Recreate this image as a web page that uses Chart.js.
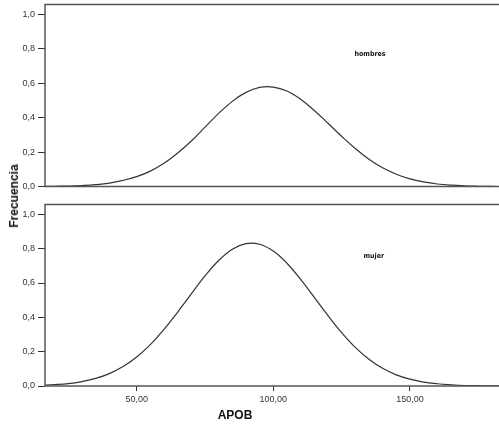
<!DOCTYPE html>
<html>
<head>
<meta charset="utf-8">
<title>APOB</title>
<script src="https://cdn.jsdelivr.net/npm/chart.js@4.4.1/dist/chart.umd.min.js"></script>
<style>
  html, body { margin: 0; padding: 0; background: #fff; }
  #wrap { position: relative; width: 499px; height: 427px; overflow: hidden; }
  #chart-top { position: absolute; left: 0; top: -4px; }
  #chart-bottom { position: absolute; left: 0; top: 196px; }
  .axis-title { position: absolute; font: bold 12px "Liberation Sans", Arial, sans-serif; color: #111; white-space: nowrap; }
  #y-title { left: 14px; top: 196px; transform: translate(-50%, -50%) rotate(-90deg); }
  #x-title { left: 235px; top: 415px; transform: translate(-50%, -50%); }
</style>
</head>
<body>
<div id="wrap">
  <canvas id="chart-top" width="499" height="199"></canvas>
  <canvas id="chart-bottom" width="499" height="231"></canvas>
  <div class="axis-title" id="y-title">Frecuencia</div>
  <div class="axis-title" id="x-title">APOB</div>
</div>
<script>
// Curvas normales de APOB por sexo
const apobX = [15, 20, 25, 30, 35, 40, 45, 50, 55, 60, 65, 70, 75, 80, 85, 90, 95, 100,
  105, 110, 115, 120, 125, 130, 135, 140, 145, 150, 155, 160, 165, 170, 175, 180, 185];

const hombres = [0.001, 0.002, 0.003, 0.006, 0.011, 0.020, 0.036, 0.058, 0.090, 0.135,
  0.195, 0.265, 0.345, 0.425, 0.495, 0.547, 0.576, 0.578, 0.555, 0.507, 0.442, 0.368,
  0.292, 0.221, 0.159, 0.109, 0.072, 0.045, 0.027, 0.015, 0.008, 0.004, 0.002, 0.001, 0.0005];

const mujer = [0.004, 0.008, 0.014, 0.026, 0.044, 0.072, 0.113, 0.169, 0.241, 0.330,
  0.431, 0.537, 0.641, 0.731, 0.797, 0.830, 0.826, 0.786, 0.715, 0.621, 0.516, 0.410,
  0.311, 0.225, 0.156, 0.103, 0.065, 0.040, 0.023, 0.013, 0.007, 0.003, 0.002, 0.001, 0.0004];

const xTicks = [50, 100, 150];
const xTickLabels = ['50,00', '100,00', '150,00'];
const yTicks = [0, 0.2, 0.4, 0.6, 0.8, 1.0];
const yTickLabels = ['0,0', '0,2', '0,4', '0,6', '0,8', '1,0'];

const X_MIN = 16.45, X_MAX = 182.6, Y_MAX = 1.058;
const tickFont = { family: "'Liberation Sans', Arial, sans-serif", size: 9 };
const inkColor = '#333333';

// marco del panel y etiqueta del grupo
const panelPlugin = {
  id: 'panel',
  afterDraw(chart, args, opts) {
    const { ctx, chartArea: a, scales } = chart;
    ctx.save();
    ctx.strokeStyle = '#555555';
    ctx.lineWidth = 1.5;
    ctx.beginPath();
    ctx.moveTo(a.right + 2, a.top);
    ctx.lineTo(a.left, a.top);
    ctx.lineTo(a.left, a.bottom);
    ctx.lineTo(a.right + 2, a.bottom);
    ctx.stroke();
    ctx.fillStyle = '#111';
    ctx.font = "bold 7px 'DejaVu Sans Condensed', 'DejaVu Sans', sans-serif";
    ctx.textAlign = 'center';
    ctx.textBaseline = 'middle';
    ctx.fillText(opts.text, scales.x.getPixelForValue(opts.x), scales.y.getPixelForValue(opts.y));
    ctx.restore();
  }
};

function buildChart(id, values, label, showX) {
  const points = apobX.map((x, i) => ({ x: x, y: values[i] }));
  return new Chart(document.getElementById(id), {
    type: 'line',
    data: {
      datasets: [{
        label: label,
        data: points,
        borderColor: inkColor,
        borderWidth: 1.2,
        pointRadius: 0,
        tension: 0.4,
        fill: false
      }]
    },
    options: {
      responsive: false,
      animation: false,
      layout: { padding: { top: 4, bottom: showX ? 0 : 4, left: 0, right: 0 } },
      plugins: {
        legend: { display: false },
        tooltip: { enabled: false },
        panel: label
      },
      scales: {
        x: {
          type: 'linear',
          min: X_MIN,
          max: X_MAX,
          display: showX,
          afterBuildTicks: s => { s.ticks = xTicks.map(v => ({ value: v })); },
          afterFit: s => { s.height = showX ? 41 : 0; },
          grid: { drawOnChartArea: false, tickLength: 5, color: inkColor },
          border: { display: false },
          ticks: {
            font: tickFont,
            color: inkColor,
            padding: 3,
            maxRotation: 0,
            callback: v => xTickLabels[xTicks.indexOf(v)]
          }
        },
        y: {
          min: 0,
          max: Y_MAX,
          afterBuildTicks: s => { s.ticks = yTicks.map(v => ({ value: v })); },
          afterFit: s => { s.width = 45; },
          grid: { drawOnChartArea: false, tickLength: 7, color: inkColor },
          border: { display: false },
          ticks: {
            font: tickFont,
            color: inkColor,
            padding: 3,
            callback: v => yTickLabels[yTicks.indexOf(v)]
          }
        }
      }
    },
    plugins: [panelPlugin]
  });
}

const topChart = buildChart('chart-top', hombres, { text: 'hombres', x: 135.4, y: 0.767 }, false);
const bottomChart = buildChart('chart-bottom', mujer, { text: 'mujer', x: 136.8, y: 0.756 }, true);
</script>
</body>
</html>
